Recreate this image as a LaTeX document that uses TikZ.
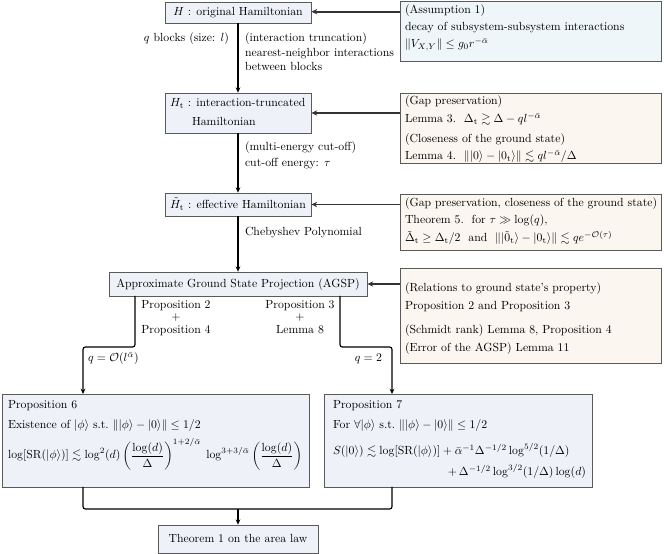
\documentclass[tikz,border=0pt]{standalone}
\usepackage{amsmath,amssymb}
\usetikzlibrary{arrows.meta,fit}
\definecolor{mainfill}{HTML}{EEF2F8}
\definecolor{asmfill}{HTML}{EEF6FA}
\definecolor{notefill}{HTML}{FCF6F0}
\definecolor{boxline}{HTML}{5A5A5A}
\definecolor{connline}{HTML}{333333}
\begin{document}
\begin{tikzpicture}[x=0.85pt,y=-0.85pt,
 mainbox/.style={draw=boxline, fill=mainfill, line width=0.6pt, inner sep=0pt},
 asmbox/.style={draw=boxline, fill=asmfill, line width=0.6pt, inner sep=0pt},
 notebox/.style={draw=boxline, fill=notefill, line width=0.6pt, inner sep=0pt},
 txt/.style={inner sep=0pt, outer sep=0pt},
 arr/.style={line width=1pt, -{Stealth[length=4.5pt,width=4pt]}},
 flow/.style={line width=1pt, rounded corners=2pt},
 conn/.style={draw=connline, line width=1.5pt, -{Stealth[length=5pt,width=4.5pt]}},
]
\useasboundingbox (0,0) rectangle (664,554);

% ---------- main column boxes ----------
\node[mainbox, fit={(165,2)(311,23)}] (H) {};
\node[txt, anchor=base] (Htx) at (238,16) {$H$ : original Hamiltonian};

\node[mainbox, fit={(165,93)(311,133)}] (Ht) {};
\node[txt, anchor=base west] (Httx1) at (170,107) {$H_{\mathrm{t}}$ : interaction-truncated};
\node[txt, anchor=base west] (Httx2) at (192,126) {Hamiltonian};

\node[mainbox, fit={(165,193)(311,216)}] (He) {};
\node[txt, anchor=base] (Hetx) at (238,208.5) {$\tilde{H}_{\mathrm{t}}$ : effective Hamiltonian};

\node[mainbox, fit={(109,272)(367,296)}] (AG) {};
\node[txt, anchor=base] (AGtx) at (238,287.5) {Approximate Ground State Projection (AGSP)};

\node[mainbox, fit={(2,394)(309,487)}] (P6) {};
\node[txt, anchor=base west] (P6a) at (8,409) {Proposition 6};
\node[txt, anchor=base west] (P6b) at (8,429) {Existence of $|\phi\rangle$ s.t.\ $\||\phi\rangle-|0\rangle\|\le 1/2$};
\node[txt, anchor=base west] (P6c) at (8,459) {$\displaystyle \log[\mathrm{SR}(|\phi\rangle)]\lesssim \log^2(d)\left(\frac{\log(d)}{\Delta}\right)^{1+2/\bar\alpha}\;\log^{3+3/\bar\alpha}\left(\frac{\log(d)}{\Delta}\right)$};

\node[mainbox, fit={(324,394)(592,487)}] (P7) {};
\node[txt, anchor=base west] (P7a) at (333,409) {Proposition 7};
\node[txt, anchor=base west] (P7b) at (333,429) {For $\forall|\phi\rangle$ s.t.\ $\||\phi\rangle-|0\rangle\|\le 1/2$};
\node[txt, anchor=base west] (P7c) at (333,455) {$S(|0\rangle)\lesssim\log[\mathrm{SR}(|\phi\rangle)]+\bar\alpha^{-1}\Delta^{-1/2}\log^{5/2}(1/\Delta)$};
\node[txt, anchor=base east] (P7d) at (586,476) {$+\,\Delta^{-1/2}\log^{3/2}(1/\Delta)\log(d)$};

\node[mainbox, fit={(158,525)(318,553)}] (T1) {};
\node[txt, anchor=base] (T1tx) at (238,542.5) {Theorem 1 on the area law};

% ---------- side boxes ----------
\node[asmbox, fit={(400,1)(661,61)}] (A1) {};
\node[txt, anchor=base west] (A1a) at (405,13.5) {(Assumption 1)};
\node[txt, anchor=base west] (A1b) at (405,30.5) {decay of subsystem-subsystem interactions};
\node[txt, anchor=base west] (A1c) at (405,47.5) {$\|V_{X,Y}\|\le g_0 r^{-\bar\alpha}$};

\node[notebox, fit={(400,93)(661,163)}] (GP) {};
\node[txt, anchor=base west] (GPa) at (405,105) {(Gap preservation)};
\node[txt, anchor=base west] (GPb) at (405,123) {Lemma 3.\ \ $\Delta_{\mathrm{t}}\gtrsim\Delta-ql^{-\bar\alpha}$};
\node[txt, anchor=base west] (GPc) at (405,143) {(Closeness of the ground state)};
\node[txt, anchor=base west] (GPd) at (405,160) {Lemma 4.\ \ $\||0\rangle-|0_{\mathrm{t}}\rangle\|\lesssim ql^{-\bar\alpha}/\Delta$};

\node[notebox, fit={(400,194)(661,250)}] (T5) {};
\node[txt, anchor=base west] (T5a) at (405,207) {(Gap preservation, closeness of the ground state)};
\node[txt, anchor=base west] (T5b) at (405,224) {Theorem 5.\ \ for $\tau\gg\log(q)$,};
\node[txt, anchor=base west] (T5c) at (405,242) {$\tilde\Delta_{\mathrm{t}}\ge\Delta_{\mathrm{t}}/2$\ \ and\ \ $\||\tilde 0_{\mathrm{t}}\rangle-|0_{\mathrm{t}}\rangle\|\lesssim qe^{-\mathcal{O}(\tau)}$};

\node[notebox, fit={(400,268)(661,363)}] (RL) {};
\node[txt, anchor=base west] (RLa) at (405,292) {(Relations to ground state's property)};
\node[txt, anchor=base west] (RLb) at (405,310) {Proposition 2 and Proposition 3};
\node[txt, anchor=base west] (RLc) at (405,333.5) {(Schmidt rank)};
\node[txt, anchor=base west] (RLd) at (RLc.base east) {\ Lemma 8, Proposition 4};
\node[txt, anchor=base west] (RLe) at (405,351.5) {(Error of the AGSP)};
\node[txt, anchor=base west] (RLf) at (RLe.base east) {\ Lemma 11};

% ---------- labels on the flow ----------
\node[txt, anchor=base east] (L1) at (229,42) {$q$ blocks (size: $l$)};
\node[txt, anchor=base west] (L2) at (245,42) {(interaction truncation)};
\node[txt, anchor=base west] (L3) at (245,57) {nearest-neighbor interactions};
\node[txt, anchor=base west] (L4) at (245,71) {between blocks};
\node[txt, anchor=base west] (L5) at (245,151) {(multi-energy cut-off)};
\node[txt, anchor=base west] (L6) at (245,167) {cut-off energy: $\tau$};
\node[txt, anchor=base west] (L7) at (245,236) {Chebyshev Polynomial};

\node[txt, anchor=base] (L8) at (176,308.5) {Proposition 2};
\node[txt, anchor=base] (L9) at (176,321) {$+$};
\node[txt, anchor=base] (L10) at (176,334) {Proposition 4};
\node[txt, anchor=base] (L11) at (300,308.5) {Proposition 3};
\node[txt, anchor=base] (L12) at (300,321) {$+$};
\node[txt, anchor=base] (L13) at (300,334) {Lemma 8};
\node[txt, anchor=base west] (L14) at (88,362) {$q=\mathcal{O}(l^{\bar\alpha})$};
\node[txt, anchor=base east] (L15) at (382,362) {$q=2$};

% ---------- connectors ----------
\draw[arr] (H.south) -- (Ht.north);
\draw[arr] (Ht.south) -- (He.north);
\draw[arr] (He.south) -- (AG.north);

\coordinate (ls) at (135,296);
\coordinate (rs) at (340,296);
\coordinate (lt) at (83,394);
\coordinate (rt) at (392,394);
\draw[flow, -{Stealth[length=4.5pt,width=4pt]}] (ls) -- (135,347) -- (83,347) -- (lt);
\draw[flow, -{Stealth[length=4.5pt,width=4pt]}] (rs) -- (340,347) -- (392,347) -- (rt);

\coordinate (lb) at (83,487);
\coordinate (rb) at (392,487);
\coordinate (mj) at (238,509);
\draw[flow] (lb) -- (83,509) -- (392,509) -- (rb);
\draw[arr] (mj) -- (T1.north);

\draw[conn] (A1.west |- 0,11.7) -- (H.east |- 0,11.7);
\draw[conn] (GP.west |- Ht.east) -- (Ht.east);
\draw[conn] (T5.west |- He.east) -- (He.east);
\draw[conn] (RL.west |- AG.east) -- (AG.east);
\end{tikzpicture}
\end{document}
